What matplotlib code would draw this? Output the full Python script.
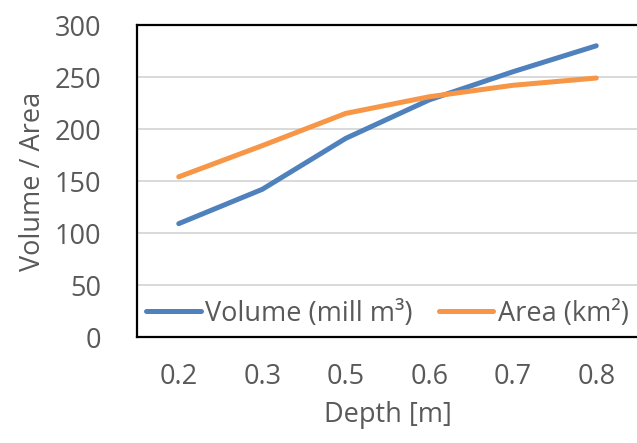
import matplotlib
matplotlib.use("Agg")
import matplotlib.pyplot as plt

# depth categories and the two series
depths = ["0.2", "0.3", "0.5", "0.6", "0.7", "0.8"]
volume = [109, 142, 191, 228, 255, 280]
area = [154, 184, 215, 231, 242, 249]
y_ticks = [0, 50, 100, 150, 200, 250, 300]

text_grey = "#595959"
plt.rcParams["font.family"] = ["Open Sans", "DejaVu Sans"]
fs = 19.5

fig = plt.figure(figsize=(6.37, 4.43), dpi=100)
# plot area runs to the right edge of the image
ax = fig.add_axes([137 / 637, (443 - 337) / 443, 501 / 637, 312 / 443])

x = range(len(depths))
ax.plot(x, volume, color="#4F81BD", lw=3.6, solid_capstyle="round",
        label="Volume (mill m³)")
ax.plot(x, area, color="#F79646", lw=3.6, solid_capstyle="round",
        label="Area (km²)")

ax.set_xlim(-0.5, len(depths) - 0.5)
ax.set_ylim(0, 300)
ax.set_xticks(list(x))
ax.set_xticklabels(depths)
ax.set_yticks(y_ticks)
ax.yaxis.grid(True, color="#D9D9D9", lw=1.4)
ax.set_axisbelow(True)

for s in ax.spines.values():
    s.set_color("black")
    s.set_linewidth(1.6)

ax.tick_params(axis="both", length=0, labelsize=fs, colors=text_grey)
ax.tick_params(axis="y", pad=26)
ax.tick_params(axis="x", pad=19)

ax.set_xlabel("Depth [m]", fontsize=fs, color=text_grey, labelpad=7)
ax.set_ylabel("Volume / Area", fontsize=fs, color=text_grey, labelpad=5)

leg = ax.legend(loc="lower left", bbox_to_anchor=(0.0, 0.0), ncol=2,
                frameon=False, fontsize=fs, handlelength=2.0,
                handletextpad=0.15, columnspacing=1.0, borderaxespad=0.2,
                borderpad=0.15)
for t in leg.get_texts():
    t.set_color(text_grey)

fig.savefig("out.png", dpi=100)
